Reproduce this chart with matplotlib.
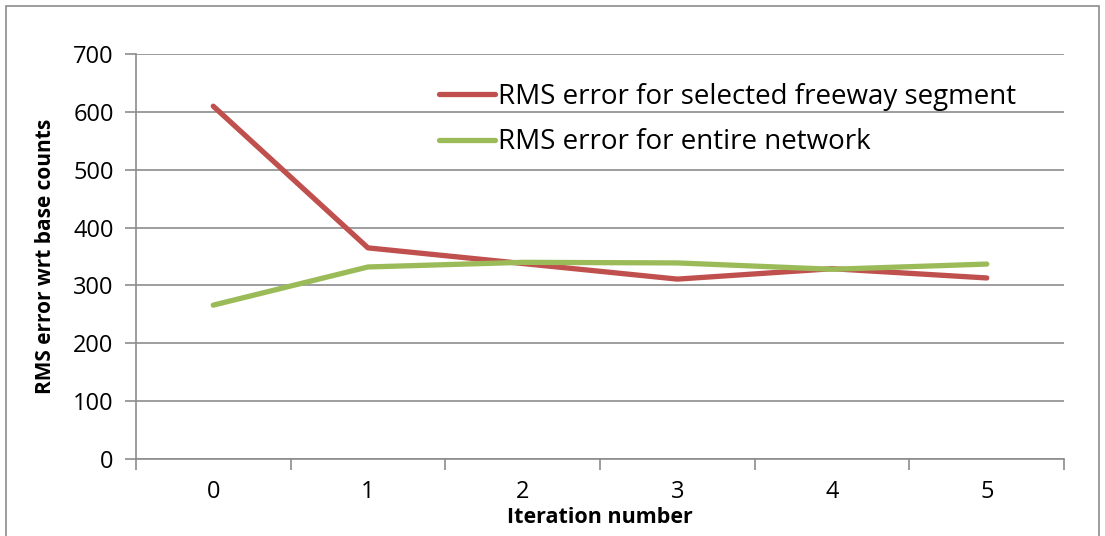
import matplotlib
matplotlib.use("Agg")
from matplotlib import pyplot as plt
from matplotlib.patches import Rectangle

# values
iterations = [0, 1, 2, 3, 4, 5]
freeway_rms = [610, 365, 338, 311, 329, 313]
network_rms = [266, 332, 340, 339, 328, 337]

plt.rcParams['font.family'] = ['Open Sans', 'DejaVu Sans']

fig = plt.figure(figsize=(11.05, 5.36), dpi=100)
ax = fig.add_axes([0.123, 0.1437, 0.840, 0.7553])

ax.plot(iterations, freeway_rms, color='#C0504D', lw=3.8, solid_capstyle='round',
        solid_joinstyle='round', label='RMS error for selected freeway segment')
ax.plot(iterations, network_rms, color='#9BBB59', lw=3.8, solid_capstyle='round',
        solid_joinstyle='round', label='RMS error for entire network')

ax.set_xlim(-0.5, 5.5)
ax.set_ylim(0, 700)
ax.set_yticks(range(0, 701, 100))
ax.yaxis.grid(True, color='#8c8c8c', lw=1.2)
ax.set_axisbelow(True)

# x ticks between categories, labels centred on categories
ax.set_xticks([i - 0.5 for i in range(len(iterations) + 1)])
ax.set_xticklabels([])
ax.set_xticks(iterations, minor=True)
ax.set_xticklabels([str(i) for i in iterations], minor=True)
ax.tick_params(axis='x', which='minor', length=0, pad=15, labelsize=17)
ax.tick_params(axis='x', which='major', length=8, color='#8c8c8c', width=1.2)
ax.tick_params(axis='y', length=8, color='#8c8c8c', width=1.2, labelsize=17, pad=8)

for side in ['top', 'right']:
    ax.spines[side].set_visible(False)
for side in ['left', 'bottom']:
    ax.spines[side].set_color('#8c8c8c')
    ax.spines[side].set_linewidth(1.2)

ax.set_xlabel('Iteration number', fontsize=15.5, fontweight='bold', labelpad=2)
ax.set_ylabel('RMS error wrt base counts', fontsize=15, fontweight='bold', labelpad=12)

ax.legend(loc='upper left', bbox_to_anchor=(0.30, 0.99), frameon=False, fontsize=20,
          handlelength=2.0, handletextpad=0.1, labelspacing=0.62, borderaxespad=0.5)

# outer chart border
fig.patches.append(Rectangle((0.005, -0.01), 0.99, 0.999, transform=fig.transFigure,
                             fill=False, edgecolor='#8c8c8c', lw=1.2))

fig.savefig('out.png', dpi=100)
